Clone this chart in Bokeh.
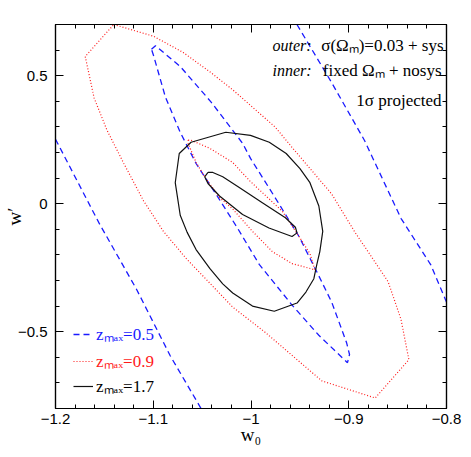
import math
from bokeh.plotting import figure
from bokeh.models import (Range1d, FixedTicker, LinearAxis, CustomJSTickFormatter,
                          Label, Legend, LegendItem)
from bokeh.embed import file_html
from bokeh.resources import INLINE

# ---------------- data (w0, w') ----------------
# z_max = 0.5, inner contour (fixed Omega_m + nosys)
w0_z05_in = [-1.1018, -1.0977, -1.0724, -1.041, -1.0268, -1.0086, -1.0005, -0.9752, -0.9509,
             -0.9327, -0.9175, -0.9023, -0.8992, -0.9013, -0.9306, -0.958, -0.9914, -1.0137,
             -1.0359, -1.0562, -1.0724, -1.0876, -1.0997, -1.1018]
wp_z05_in = [0.603, 0.617, 0.536, 0.398, 0.327, 0.236, 0.177, 0.023, -0.128,
             -0.266, -0.384, -0.542, -0.589, -0.621, -0.514, -0.396, -0.238, -0.096,
             0.038, 0.157, 0.279, 0.417, 0.579, 0.603]
# z_max = 0.5, outer contour (only two long edges are inside the window)
w0_z05_out_a = [-1.2, -1.1554, -1.117, -1.0825, -1.0511]
wp_z05_out_a = [0.252, -0.076, -0.335, -0.595, -0.8]
w0_z05_out_b = [-0.953, -0.9175, -0.884, -0.8466, -0.8162, -0.8]
wp_z05_out_b = [0.7, 0.473, 0.248, -0.057, -0.238, -0.384]

# z_max = 0.9
w0_z09_in = [-1.0643, -1.0613, -1.042, -1.0187, -1.0015, -0.9681, -0.9529, -0.9397, -0.9347,
             -0.958, -0.9782, -0.9985, -1.0187, -1.0319, -1.0461, -1.0562, -1.0643, -1.0643]
wp_z09_in = [0.248, 0.248, 0.216, 0.161, 0.090, -0.029, -0.116, -0.195, -0.258,
             -0.234, -0.187, -0.108, -0.021, 0.023, 0.098, 0.161, 0.236, 0.248]
w0_z09_out = [-1.1403, -1.0997, -1.0694, -1.041, -1.0187, -0.9752, -0.958, -0.9175, -0.8942,
              -0.8597, -0.8466, -0.8385, -0.8729, -0.9276, -0.9853, -1.0187, -1.0663, -1.0896,
              -1.1099, -1.1301, -1.1473, -1.1605, -1.1696, -1.1403]
wp_z09_out = [0.700, 0.654, 0.591, 0.512, 0.445, 0.299, 0.220, 0.038, -0.108,
              -0.305, -0.451, -0.609, -0.759, -0.692, -0.503, -0.404, -0.214, -0.108,
              0.011, 0.157, 0.287, 0.413, 0.575, 0.700]

# z_max = 1.7
w0_z17_in = [-1.044, -1.0474, -1.044, -1.0322, -1.0086, -0.9816, -0.958, -0.9529, -0.9546,
             -0.9648, -0.9884, -1.012, -1.0289, -1.039, -1.044]
wp_z17_in = [0.122, 0.105, 0.079, 0.030, -0.042, -0.095, -0.128, -0.114, -0.092,
             -0.055, 0.004, 0.063, 0.105, 0.122, 0.122]
w0_z17_out = [-1.0258, -1.0005, -0.9813, -0.964, -0.9499, -0.9397, -0.9306, -0.9266, -0.9296,
              -0.9327, -0.9357, -0.9438, -0.9529, -0.9762, -0.9985, -1.0187, -1.0289, -1.042,
              -1.0562, -1.0653, -1.0724, -1.0775, -1.0734, -1.0613, -1.0258]
wp_z17_out = [0.279, 0.267, 0.240, 0.196, 0.137, 0.082, -0.009, -0.108, -0.187,
              -0.238, -0.293, -0.345, -0.388, -0.420, -0.400, -0.349, -0.313, -0.254,
              -0.179, -0.112, -0.045, 0.082, 0.196, 0.240, 0.279]

x_major = [-1.2, -1.1, -1.0, -0.9, -0.8]
x_minor = [round(-1.2 + 0.02 * i, 2) for i in range(21)]
y_major = [-0.5, 0.0, 0.5]
y_minor = [round(-0.8 + 0.1 * i, 1) for i in range(16)]

legend_labels = ["zₘₐₓ=0.5", "zₘₐₓ=0.9", "zₘₐₓ=1.7"]

BLUE = "#1a1aff"
RED = "#ff1a1a"
BLACK = "#111111"
SERIF = "Liberation Serif"
SANS = "Liberation Sans"

p = figure(width=471, height=457, output_backend="svg", toolbar_location=None,
           x_range=Range1d(-1.2, -0.8), y_range=Range1d(-0.8, 0.7),
           min_border_left=51, min_border_right=25, min_border_top=24, min_border_bottom=49)
p.grid.visible = False
p.outline_line_color = "black"
p.outline_line_width = 1.2
p.background_fill_color = "white"
p.border_fill_color = "white"

fmt = CustomJSTickFormatter(code="""
const v = Math.round(tick*10)/10;
return v.toString().replace('-', '\u2212');
""")
blank = CustomJSTickFormatter(code="return '';")

def style_axis(ax, ticks, minor, show_labels):
    ax.ticker = FixedTicker(ticks=ticks, minor_ticks=minor)
    ax.major_tick_in = 8
    ax.major_tick_out = 0
    ax.minor_tick_in = 4
    ax.minor_tick_out = 0
    ax.axis_line_color = "black"
    ax.major_tick_line_color = "black"
    ax.minor_tick_line_color = "black"
    ax.axis_line_width = 1.2
    if show_labels:
        ax.formatter = fmt
        ax.major_label_text_font = SANS
        ax.major_label_text_font_size = "15px"
        ax.major_label_text_color = "black"
        ax.axis_label_text_font = SERIF
        ax.axis_label_text_font_size = "19px"
        ax.axis_label_text_font_style = "normal"
        ax.axis_label_text_color = "black"
    else:
        ax.formatter = blank
        ax.major_label_standoff = 0

style_axis(p.xaxis[0], x_major, x_minor, True)
p.xaxis[0].major_label_standoff = 5
p.xaxis[0].axis_label = "w₀"
p.xaxis[0].axis_label_standoff = -3
style_axis(p.yaxis[0], y_major, y_minor, True)
p.yaxis[0].major_label_standoff = 8
p.yaxis[0].axis_label = "w′"
p.yaxis[0].axis_label_standoff = -10

top = LinearAxis()
style_axis(top, x_major, x_minor, False)
p.add_layout(top, "above")
right = LinearAxis()
style_axis(right, y_major, y_minor, False)
p.add_layout(right, "right")

# contours
r_b = p.line(w0_z05_in, wp_z05_in, line_color=BLUE, line_width=1.3, line_dash="6 4")
p.line(w0_z05_out_a, wp_z05_out_a, line_color=BLUE, line_width=1.3, line_dash="6 4")
p.line(w0_z05_out_b, wp_z05_out_b, line_color=BLUE, line_width=1.3, line_dash="6 4")
r_r = p.line(w0_z09_in, wp_z09_in, line_color=RED, line_width=1.2, line_dash="1 2")
p.line(w0_z09_out, wp_z09_out, line_color=RED, line_width=1.2, line_dash="1 2")
r_k = p.line(w0_z17_in, wp_z17_in, line_color=BLACK, line_width=1.2)
p.line(w0_z17_out, wp_z17_out, line_color=BLACK, line_width=1.2)

# legends (one per entry, so each text has its own colour)
for r, lab, col, ybot in [(r_b, legend_labels[0], BLUE, 63),
                          (r_r, legend_labels[1], RED, 36),
                          (r_k, legend_labels[2], "black", 11)]:
    lg = Legend(items=[LegendItem(label=lab, renderers=[r])], location=(18, ybot),
                padding=0, margin=0, spacing=0, border_line_color=None,
                background_fill_alpha=0, glyph_width=20, glyph_height=20,
                label_height=20, label_standoff=3, label_text_font=SERIF,
                label_text_font_size="17px", label_text_color=col)
    p.add_layout(lg)

# annotation texts (screen units relative to the frame)
def add_label(text, x, y, align="left", style="normal", size="17px"):
    p.add_layout(Label(x=x, y=y, x_units="screen", y_units="screen", text=text,
                       text_font=SERIF, text_font_size=size, text_font_style=style,
                       text_align=align, text_baseline="middle", text_color="black"))

add_label("outer:", 217, 363, style="italic", size="16px")
add_label("σ(Ωₘ)=0.03 + sys", 388, 363, align="right")
add_label("inner:", 217, 338, style="italic", size="16px")
add_label("fixed Ωₘ + nosys", 386, 338, align="right")
add_label("1σ projected", 386, 308, align="right")

open("out.html", "w").write(file_html(p, INLINE))
